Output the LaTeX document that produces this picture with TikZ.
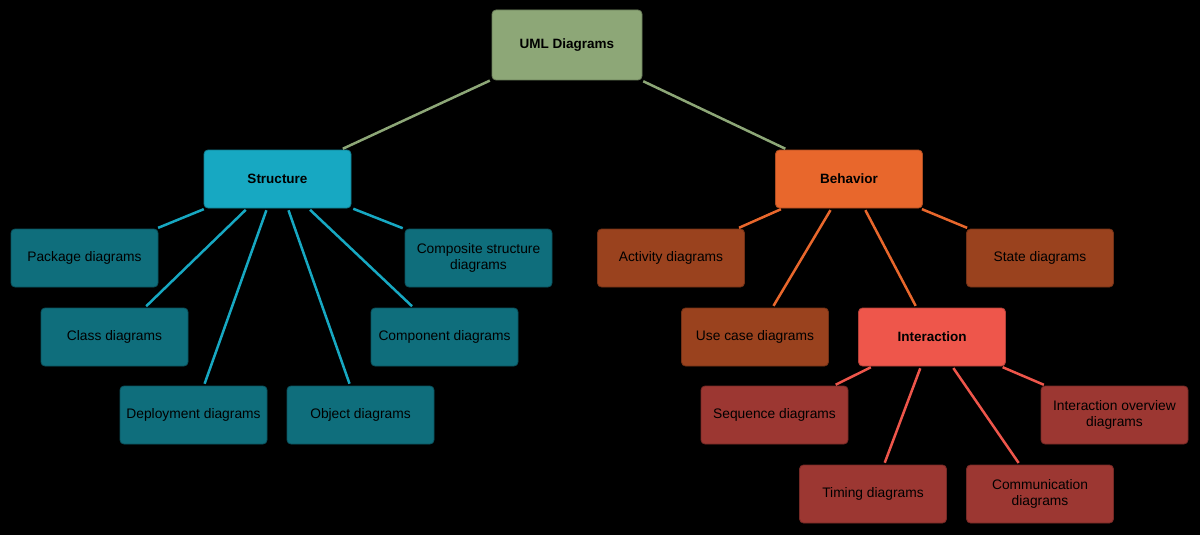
\documentclass[tikz,border=0pt]{standalone}
\usepackage{fontspec}
\setmainfont{Liberation Sans}
\definecolor{umlc}{HTML}{8DA777}
\definecolor{strc}{HTML}{17A8C2}
\definecolor{strl}{HTML}{0F6E7C}
\definecolor{behc}{HTML}{E8672C}
\definecolor{behl}{HTML}{9A421E}
\definecolor{intc}{HTML}{EE564B}
\definecolor{intl}{HTML}{9C3732}
\tikzset{
  box/.style={rectangle, rounded corners=4pt, minimum width=147pt, minimum height=58pt,
    inner sep=2pt, align=center, text=black, line width=0.8pt,
    font=\fontsize{13.8}{16}\selectfont},
  parent/.style={box, font=\fontsize{13.5}{16}\selectfont\bfseries},
  umlbox/.style={parent, fill=umlc, draw=umlc!75!black, minimum width=150pt, minimum height=70pt},
  strbox/.style={parent, fill=strc, draw=strc!75!black},
  strleaf/.style={box, fill=strl, draw=strl!75!black},
  behbox/.style={parent, fill=behc, draw=behc!75!black},
  behleaf/.style={box, fill=behl, draw=behl!75!black},
  intbox/.style={parent, fill=intc, draw=intc!75!black},
  intleaf/.style={box, fill=intl, draw=intl!75!black},
  link/.style={line width=2.5pt, shorten >=2pt, shorten <=2pt},
}
\begin{document}
\begin{tikzpicture}[x=1pt, y=-1pt]
\fill[black] (0,0) rectangle (1200,535);
\useasboundingbox (0,0) rectangle (1200,535);

\node[umlbox] (uml) at (567,45) {UML Diagrams};
\node[strbox] (str) at (277.5,179) {Structure};
\node[behbox] (beh) at (849,179) {Behavior};

\node[strleaf] (pkg) at (84.5,258) {Package diagrams};
\node[strleaf] (comp) at (478.5,258) {Composite structure\\diagrams};
\node[strleaf] (cls) at (114.5,337) {Class diagrams};
\node[strleaf] (cmp) at (444.5,337) {Component diagrams};
\node[strleaf] (dep) at (193.5,415) {Deployment diagrams};
\node[strleaf] (obj) at (360.5,415) {Object diagrams};

\node[behleaf] (act) at (671,258) {Activity diagrams};
\node[behleaf] (st) at (1040,258) {State diagrams};
\node[behleaf] (uc) at (755,337) {Use case diagrams};
\node[intbox] (int) at (932,337) {Interaction};

\node[intleaf] (seq) at (774.5,415) {Sequence diagrams};
\node[intleaf] (iov) at (1114.5,415) {Interaction overview\\diagrams};
\node[intleaf] (tim) at (873,494) {Timing diagrams};
\node[intleaf] (com) at (1040,494) {Communication\\diagrams};

\draw[link, umlc] (uml) -- (str);
\draw[link, umlc] (uml) -- (beh);

\foreach \c in {pkg,comp,cls,cmp,dep,obj}
  \draw[link, strc] (str) -- (\c);
\foreach \c in {act,st,uc,int}
  \draw[link, behc] (beh) -- (\c);
\foreach \c in {seq,iov,tim,com}
  \draw[link, intc] (int) -- (\c);
\end{tikzpicture}
\end{document}
